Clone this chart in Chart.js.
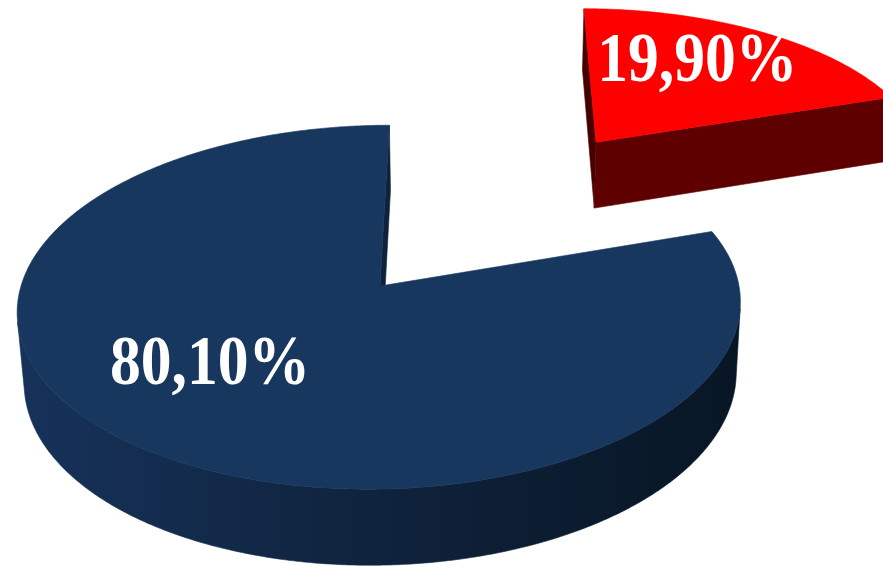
<!DOCTYPE html>
<html>
<head>
<meta charset="utf-8">
<title>Distribuição</title>
<script src="https://cdn.jsdelivr.net/npm/chart.js@4.4.0/dist/chart.umd.min.js"></script>
<style>
  html, body { margin: 0; padding: 0; background: #fff; overflow: hidden; }
  canvas { display: block; }
</style>
</head>
<body>
<canvas id="pie" width="883" height="566"></canvas>
<script>
const categories = ['Grupo A', 'Grupo B'];
const shares = [19.9, 80.1];
const topColors = ['#ff0000', '#17375e'];
const startFaceColors = ['#470000', '#0e223b'];
const endFaceColors = ['#5e0000', '#0e223b'];
const rimColors = ['#5e0000', null];   // null -> gradient along the rim

const RADIUS = 359;

// camera used to fake the 3D look: distance in radii, tilt, horizontal eye shift
const view = { dist: 7.43, tilt: 30 * Math.PI / 180, eyeX: 0.25, depth: 0.23 };

function makeProjector(el) {
    const F = el.outerRadius * view.dist;
    const c = Math.cos(view.tilt), s = Math.sin(view.tilt);
    const x0 = el.x + F * view.eyeX / view.dist;
    return (X, Z, H) => {
        const zc = view.dist - Z * c - H * s;
        const yc = -Z * s + H * c;
        return [x0 + F * (X - view.eyeX) / zc, el.y - F * yc / zc];
    };
}

function polygon(ctx, pts, fill) {
    ctx.beginPath();
    pts.forEach((p, i) => i ? ctx.lineTo(p[0], p[1]) : ctx.moveTo(p[0], p[1]));
    ctx.closePath();
    ctx.fillStyle = fill;
    ctx.strokeStyle = fill;
    ctx.lineWidth = 0.6;
    ctx.fill();
    ctx.stroke();
}

const pie3d = {
    id: 'pie3d',
    beforeDatasetsDraw(chart, args, opts) {
        const ctx = chart.ctx;
        const meta = chart.getDatasetMeta(0);
        const ds = chart.data.datasets[0];
        const c = Math.cos(view.tilt);
        const camZ = view.dist * c;
        const bottom = -view.depth;

        const slices = meta.data.map((el, i) => {
            const mid = (el.startAngle + el.endAngle) / 2;
            const ex = opts.explode[i] || 0;
            return {
                i, el, mid,
                cx: Math.cos(mid) * ex,
                cz: Math.sin(mid) * ex,
                P: makeProjector(el)
            };
        });
        // far slices first
        slices.sort((a, b) => (b.cz + Math.sin(b.mid) * 0.5) - (a.cz + Math.sin(a.mid) * 0.5));

        ctx.save();
        slices.forEach(sl => {
            const { el, cx, cz, P, i } = sl;
            const a0 = el.startAngle, a1 = el.endAngle;
            const n = Math.max(8, Math.ceil((a1 - a0) / (Math.PI / 360)));
            const angles = [];
            for (let k = 0; k <= n; k++) angles.push(a0 + (a1 - a0) * k / n);
            const rim = (a, H) => P(cx + Math.cos(a), cz + Math.sin(a), H);

            // flat cut faces
            [
                [a0, Math.sin(a0), -Math.cos(a0), startFaceColors[i]],
                [a1, -Math.sin(a1), Math.cos(a1), endFaceColors[i]]
            ].forEach(([a, nx, nz, col]) => {
                if (nx * (view.eyeX - cx) + nz * (camZ - cz) <= 0) return;
                polygon(ctx, [P(cx, cz, 0), rim(a, 0), rim(a, bottom), P(cx, cz, bottom)], col);
            });

            // rounded rim, only the part facing the eye
            let run = [];
            const flush = () => {
                if (run.length > 1) {
                    const pts = run.map(a => rim(a, 0)).concat(run.slice().reverse().map(a => rim(a, bottom)));
                    let fill = rimColors[i];
                    if (!fill) {
                        const xs = pts.map(p => p[0]);
                        const g = ctx.createLinearGradient(Math.min(...xs), 0, Math.max(...xs), 0);
                        g.addColorStop(0, '#16325a');
                        g.addColorStop(0.45, '#10243f');
                        g.addColorStop(1, '#081624');
                        fill = g;
                    }
                    polygon(ctx, pts, fill);
                }
                run = [];
            };
            angles.forEach(a => {
                const facing = Math.cos(a) * (view.eyeX - cx) + Math.sin(a) * (camZ - cz) - 1 > 0;
                if (facing) run.push(a); else flush();
            });
            flush();

            // top face
            polygon(ctx, [P(cx, cz, 0)].concat(angles.map(a => rim(a, 0))), el.options.backgroundColor);

            // value label
            const turn = (opts.labelTurn[i] || 0) * Math.PI / 180;
            const r = opts.labelRadius[i];
            const pos = P(cx + Math.cos(sl.mid + turn) * r, cz + Math.sin(sl.mid + turn) * r, 0);
            sl.label = { pos, text: ds.data[i].toFixed(2).replace('.', ',') + '%' };
        });

        // labels are a little condensed
        ctx.font = 'bold 70px "Liberation Serif", "Times New Roman", serif';
        ctx.fillStyle = '#ffffff';
        ctx.textAlign = 'center';
        ctx.textBaseline = 'middle';
        slices.forEach(sl => {
            ctx.save();
            ctx.translate(sl.label.pos[0], sl.label.pos[1]);
            ctx.scale(0.88, 1);
            ctx.fillText(sl.label.text, 0, 0);
            ctx.restore();
        });
        ctx.restore();
        return false;
    }
};

new Chart(document.getElementById('pie'), {
    type: 'pie',
    data: {
        labels: categories,
        datasets: [{
            data: shares,
            backgroundColor: topColors,
            borderWidth: 0,
            radius: RADIUS
        }]
    },
    options: {
        responsive: false,
        animation: false,
        radius: RADIUS,
        events: [],
        layout: { padding: { left: 0, right: 123, top: 6, bottom: 0 } },
        plugins: {
            legend: { display: false },
            tooltip: { enabled: false },
            pie3d: {
                explode: [1.09, 0],
                labelRadius: [0.67, 0.61],
                labelTurn: [-4, 10]
            }
        }
    },
    plugins: [pie3d]
});
</script>
</body>
</html>
